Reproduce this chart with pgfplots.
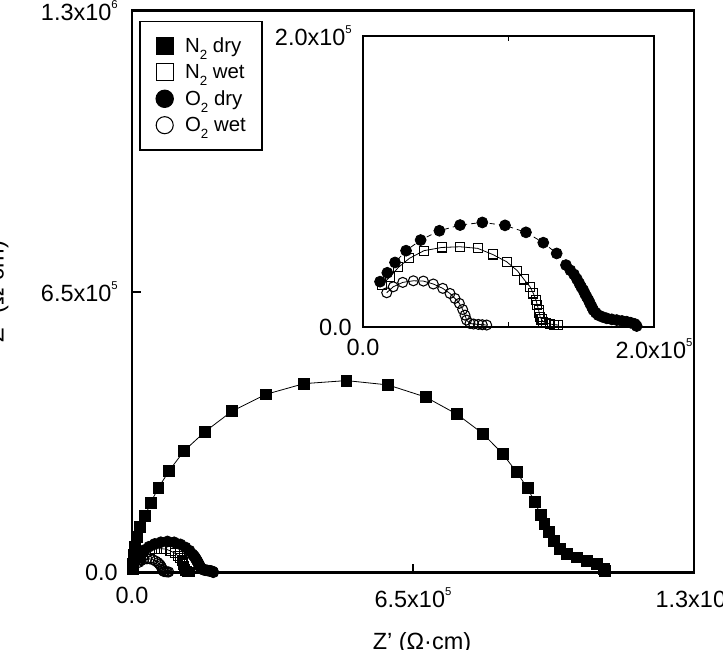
\documentclass[border=0pt]{standalone}
\usepackage{fontspec}
\setmainfont{Liberation Sans}
\usepackage{pgfplots}
\usepackage{pgfplotstable}
\pgfplotsset{compat=1.18}
\newcommand\tf{\fontsize{17.6}{20}\selectfont}
\newcommand\sups[1]{\raisebox{9pt}{\fontsize{8.5}{9}\selectfont #1}}
\newcommand\subs[1]{\raisebox{-5.5pt}{\fontsize{10}{10}\selectfont #1}}

\pgfplotstableread{
x y
2000 8000
3000 21000
5000 40000
7500 60000
10800 82000
18400 105000
30000 130000
43000 161000
61000 196000
86400 236000
120000 281000
169000 326000
231000 373000
309000 412000
398000 437000
496000 444000
592000 434000
679000 406000
752000 366000
812000 321000
857000 275000
890000 232000
915000 195000
932000 163000
945000 134000
954000 113000
964000 93000
975000 74000
989000 55000
1007000 43000
1030000 35000
1053000 28000
1076000 19000
1091000 9000
1094000 3000
}\ntdry

\pgfplotstableread{
x y
12800 28900
18600 34600
24300 41000
31800 47200
41900 52500
54100 54700
66700 55200
78800 54100
89100 49900
98700 44900
106100 38700
110700 32700
114800 27700
117100 23100
118900 18600
119800 15100
120700 11700
121200 9400
121700 7100
122700 5200
123900 3700
126000 2800
128500 2100
131000 1700
134200 1400
}\ntwet

\pgfplotstableread{
x y
11700 31200
16700 37300
22000 44400
29600 52500
39600 59800
52500 66200
66700 70100
82000 71900
97600 69900
112000 65100
123900 58000
133100 50600
139500 42600
142500 39000
145000 36200
147000 33000
148700 30000
150000 27500
151400 25400
152500 23000
153700 20800
155000 18500
156000 16300
157200 14000
158300 11700
160000 9800
161700 8200
164500 7000
167500 6000
171000 5300
174400 4800
178000 4200
181200 3700
184000 3000
186900 2100
188100 700
}\oxdry

\pgfplotstableread{
x y
16300 23600
20800 27700
27300 30700
34600 31800
41500 31600
48300 29600
54800 26600
59800 23100
63200 19700
66200 16300
68500 12100
70100 8200
71200 4800
73500 2500
76000 2100
79300 1800
82000 1600
85000 1400
}\oxwet

\pgfplotsset{
  sntdry/.style={black, line width=0.6pt, mark=square*, mark size=4.1pt, mark options={solid}},
  sntwet/.style={black, line width=0.6pt, mark=square, mark size=3.4pt, mark options={solid, line width=0.8pt}},
  soxdry/.style={black, line width=0.6pt, dash pattern=on 4pt off 3pt, mark=*, mark size=4.1pt, mark options={solid}},
  soxwet/.style={black, line width=0.6pt, mark=o, mark size=3.75pt, mark options={solid, line width=0.8pt}},
}

\begin{document}
\begin{tikzpicture}
\begin{axis}[
  at={(0pt,0pt)}, anchor=south west,
  scale only axis, width=421.5pt, height=421.5pt,
  xmin=0, xmax=1300000, ymin=0, ymax=1300000,
  font=\tf,
  axis line style={line width=2pt},
  tick pos=left, tick align=inside,
  major tick length=6.75pt,
  every tick/.style={black, line width=1.5pt},
  scaled ticks=false,
  xtick={0,650000,1300000},
  xticklabels={{0.0},{6.5x10\sups{5}},{1.3x10\sups{6}}},
  ytick={0,650000,1300000},
  yticklabels={{0.0},{6.5x10\sups{5}},{1.3x10\sups{6}}},
  xticklabel style={anchor=north, inner sep=0pt, yshift=-11pt},
  yticklabel style={anchor=east, inner sep=0pt, xshift=-10.5pt},
  xlabel={Z' (Ω·cm)}, ylabel={Z'' (Ω·cm)},
  xlabel style={at={(axis description cs:0.516,-0.106)}, anchor=north, inner sep=0pt},
  ylabel style={at={(axis description cs:-0.2285,0.5)}, anchor=base, inner sep=0pt},
  legend style={at={(axis description cs:0.0124,0.982)}, anchor=north west,
    draw=black, line width=1.2pt, font=\fontsize{15.3}{18}\selectfont,
    inner xsep=12pt, inner ysep=12pt, row sep=7pt, nodes={inner sep=0pt}},
  legend cell align=left,
  legend image code/.code={
    \draw[#1, mark size=6.4pt, line width=1pt] plot coordinates {(0pt,0pt)};
    \path (-6.4pt,0pt) (15pt,0pt);
  },
]
\addplot[sntdry] table {\ntdry};
\addlegendentry{N\subs{2} dry}
\addplot[sntwet] table {\ntwet};
\addlegendentry{N\subs{2} wet}
\addplot[soxdry] table {\oxdry};
\addlegendentry{O\subs{2} dry}
\addplot[soxwet] table {\oxwet};
\addlegendentry{O\subs{2} wet}
\end{axis}

\begin{axis}[
  at={(173.25pt,184.1pt)}, anchor=south west,
  scale only axis, width=218.25pt, height=218.25pt,
  xmin=0, xmax=200000, ymin=0, ymax=200000,
  axis background/.style={fill=white},
  axis line style={line width=1.5pt},
  font=\tf,
  scaled ticks=false,
  xtick={0,100000,200000},
  xticklabels={{0.0},{},{2.0x10\sups{5}}},
  ytick={0,200000},
  yticklabels={{0.0},{2.0x10\sups{5}}},
  xtick pos=both, ytick pos=left, xticklabel pos=left,
  tick align=inside, major tick length=3.75pt,
  every tick/.style={black, line width=1.2pt},
  xticklabel style={anchor=north, inner sep=0pt, yshift=-8.5pt},
  yticklabel style={anchor=east, inner sep=0pt, xshift=-8.25pt},
]
\addplot[sntwet] table {\ntwet};
\addplot[soxdry] table {\oxdry};
\addplot[soxwet] table {\oxwet};
\end{axis}
\pgfresetboundingbox
\useasboundingbox (-99pt,-57.4pt) rectangle (443.25pt,429.4pt);
\end{tikzpicture}
\end{document}
